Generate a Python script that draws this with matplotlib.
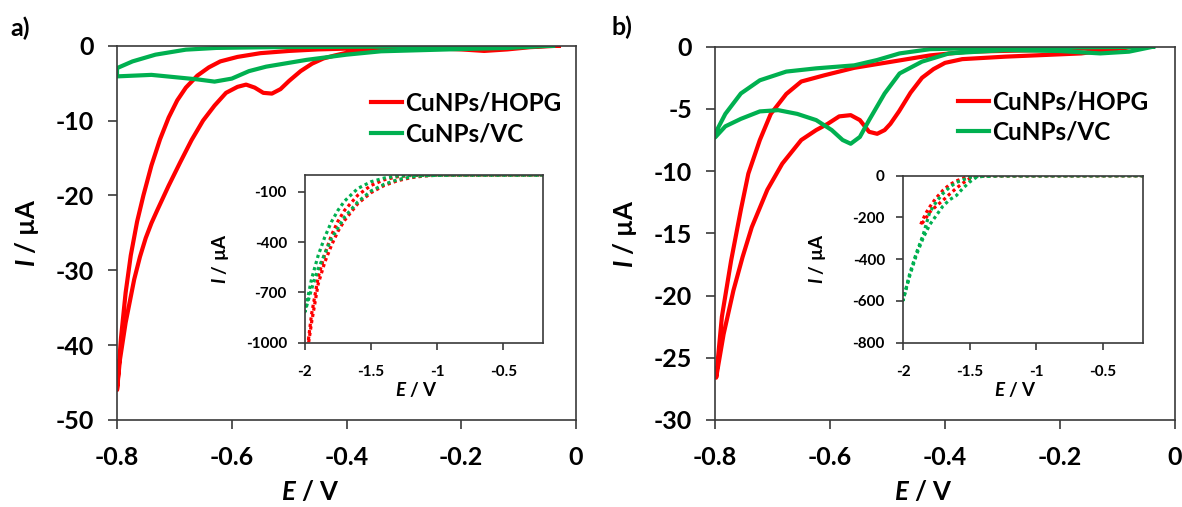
import matplotlib
matplotlib.use("Agg")
import matplotlib.pyplot as plt

plt.rcParams['font.family'] = ['Lato', 'DejaVu Sans']
plt.rcParams['font.weight'] = 'bold'
plt.rcParams['axes.unicode_minus'] = False
plt.rcParams['mathtext.fontset'] = 'custom'
plt.rcParams['mathtext.it'] = 'Lato:italic:bold'
plt.rcParams['mathtext.rm'] = 'Lato:bold'

RED = '#ff0000'
GREEN = '#00b050'
SPINE = '#3a3a3a'

# ---- panel a, main CV (E in V, I in uA) ----
a_red_fwd_E = [-0.03, -0.08, -0.12, -0.16, -0.20, -0.26, -0.32, -0.38, -0.42, -0.44, -0.46, -0.48,
               -0.50, -0.515, -0.53, -0.545, -0.56, -0.575, -0.59, -0.61, -0.63, -0.65, -0.67,
               -0.69, -0.71, -0.73, -0.74, -0.75, -0.76, -0.77, -0.785, -0.795, -0.80]
a_red_fwd_I = [0, -0.2, -0.5, -0.7, -0.5, -0.3, -0.3, -0.6, -1.3, -1.7, -2.4, -3.4,
               -4.7, -5.8, -6.4, -6.3, -5.6, -5.2, -5.5, -6.3, -8.0, -10.0, -12.6,
               -15.6, -18.7, -22.0, -23.7, -25.7, -28.2, -31.2, -37.0, -42.0, -46.0]
a_red_rev_E = [-0.80, -0.793, -0.785, -0.776, -0.765, -0.754, -0.74, -0.725, -0.71, -0.695, -0.68,
               -0.66, -0.64, -0.62, -0.59, -0.55, -0.50, -0.45, -0.38, -0.30, -0.20, -0.10, -0.03]
a_red_rev_I = [-46.0, -39.0, -33.0, -28.0, -23.5, -20.0, -16.0, -12.5, -9.6, -7.3, -5.6,
               -4.0, -2.9, -2.1, -1.5, -1.0, -0.7, -0.5, -0.35, -0.25, -0.2, -0.1, 0]
a_grn_fwd_E = [-0.04, -0.12, -0.20, -0.27, -0.34, -0.40, -0.47, -0.54, -0.57, -0.60, -0.63,
               -0.66, -0.70, -0.74, -0.80]
a_grn_fwd_I = [0, -0.3, -0.45, -0.6, -0.75, -1.2, -1.9, -2.8, -3.4, -4.4, -4.8,
               -4.5, -4.2, -3.9, -4.1]
a_grn_rev_E = [-0.80, -0.773, -0.733, -0.68, -0.627, -0.53, -0.40, -0.20, -0.04]
a_grn_rev_I = [-3.0, -2.1, -1.2, -0.53, -0.3, -0.2, -0.15, -0.1, 0]

# ---- panel a, inset (wide potential window) ----
ai_red_fwd_E = [-0.2, -1.0, -1.1, -1.2, -1.3, -1.4, -1.5, -1.6, -1.7, -1.75, -1.8, -1.85, -1.9, -1.95, -2.0]
ai_red_fwd_I = [0, -1, -6, -16, -34, -62, -105, -170, -270, -335, -420, -520, -650, -880, -1150]
ai_red_rev_E = [-2.0, -1.95, -1.9, -1.85, -1.8, -1.75, -1.7, -1.6, -1.5, -1.4, -1.3, -1.2, -1.0, -0.2]
ai_red_rev_I = [-1150, -830, -610, -470, -360, -275, -210, -120, -62, -28, -10, -3, 0, 0]
ai_grn_fwd_E = [-0.2, -0.9, -1.1, -1.2, -1.3, -1.4, -1.5, -1.6, -1.7, -1.8, -1.9, -1.95, -2.0]
ai_grn_fwd_I = [0, 0, -4, -12, -28, -55, -95, -160, -250, -380, -560, -680, -816]
ai_grn_rev_E = [-2.0, -1.95, -1.9, -1.85, -1.8, -1.75, -1.7, -1.6, -1.5, -1.4, -1.3, -1.2, -0.9, -0.2]
ai_grn_rev_I = [-816, -620, -480, -370, -280, -210, -155, -80, -40, -18, -6, -2, 0, 0]

# ---- panel b, main CV ----
b_red_fwd_E = [-0.07, -0.163, -0.295, -0.37, -0.40, -0.42, -0.44, -0.46, -0.48, -0.495, -0.505,
               -0.518, -0.532, -0.548, -0.564, -0.584, -0.604, -0.624, -0.65, -0.683, -0.709,
               -0.736, -0.752, -0.768, -0.785, -0.798]
b_red_fwd_I = [0, -0.54, -0.8, -1.0, -1.3, -1.8, -2.5, -3.7, -5.2, -6.2, -6.7,
               -7.0, -6.84, -5.9, -5.5, -5.6, -6.2, -6.7, -7.5, -9.4, -11.5,
               -14.5, -16.9, -19.6, -23.1, -26.6]
b_red_rev_E = [-0.798, -0.788, -0.772, -0.755, -0.742, -0.722, -0.703, -0.676, -0.65, -0.61,
               -0.558, -0.492, -0.426, -0.36, -0.229, -0.07]
b_red_rev_I = [-26.6, -21.7, -17.2, -13.1, -10.2, -7.5, -5.4, -3.8, -2.8, -2.3,
               -1.7, -1.2, -0.7, -0.4, -0.27, 0]
b_grn_fwd_E = [-0.038, -0.08, -0.13, -0.20, -0.295, -0.393, -0.44, -0.479, -0.505, -0.532,
               -0.548, -0.564, -0.578, -0.597, -0.624, -0.657, -0.69, -0.722, -0.755, -0.782, -0.80]
b_grn_fwd_I = [0, -0.4, -0.54, -0.35, -0.27, -0.54, -1.2, -2.15, -3.76, -5.9,
               -7.25, -7.8, -7.5, -6.7, -5.9, -5.4, -5.1, -5.2, -5.8, -6.4, -7.3]
b_grn_rev_E = [-0.80, -0.782, -0.755, -0.722, -0.676, -0.624, -0.558, -0.518, -0.479, -0.426,
               -0.36, -0.038]
b_grn_rev_I = [-7.0, -5.4, -3.76, -2.7, -2.0, -1.74, -1.5, -1.07, -0.54, -0.2, -0.13, 0]

# ---- panel b, inset ----
bi_red_fwd_E = [-0.2, -1.35, -1.4, -1.45, -1.5, -1.55, -1.6, -1.65, -1.7, -1.75, -1.8, -1.84, -1.87]
bi_red_fwd_I = [0, 0, -2, -6, -14, -35, -60, -88, -118, -145, -175, -215, -237]
bi_red_rev_E = [-1.87, -1.83, -1.8, -1.755, -1.7, -1.655, -1.6, -1.53, -1.45, -0.2]
bi_red_rev_I = [-237, -181, -150, -109, -70, -45, -25, -8, -1, 0]
bi_grn_fwd_E = [-0.2, -1.3, -1.4, -1.45, -1.5, -1.55, -1.6, -1.65, -1.7, -1.75, -1.8, -1.85, -1.9, -1.95, -2.0]
bi_grn_fwd_I = [0, 0, -3, -8, -30, -60, -95, -115, -145, -190, -235, -300, -380, -480, -597]
bi_grn_rev_E = [-2.0, -1.95, -1.9, -1.85, -1.8, -1.75, -1.7, -1.65, -1.6, -1.5, -1.4, -0.2]
bi_grn_rev_I = [-597, -470, -370, -285, -175, -125, -85, -55, -32, -8, -1, 0]

main_xticks = [-0.8, -0.6, -0.4, -0.2, 0]
main_xlabels = ['-0.8', '-0.6', '-0.4', '-0.2', '0']
a_yticks = [0, -10, -20, -30, -40, -50]
b_yticks = [0, -5, -10, -15, -20, -25, -30]
inset_xticks = [-2, -1.5, -1, -0.5]
inset_xlabels = ['-2', '-1.5', '-1', '-0.5']
ai_yticks = [-100, -400, -700, -1000]
bi_yticks = [0, -200, -400, -600, -800]

labels = ['CuNPs/HOPG', 'CuNPs/VC']

fig = plt.figure(figsize=(11.82, 5.07), dpi=100)


def style(ax, fs, tlen, xpad, ypad):
    for s in ax.spines.values():
        s.set_color(SPINE)
        s.set_linewidth(1.2)
    ax.tick_params(direction='out', length=tlen, width=1.2, color=SPINE, labelsize=fs)
    ax.tick_params(axis='x', pad=xpad)
    ax.tick_params(axis='y', pad=ypad)


def set_labels(ax, fs, xl, xy, yx):
    ax.set_xlabel(r'$\mathit{E}$ / V', fontsize=fs, fontweight='bold', va='center')
    ax.set_ylabel(r'$\mathit{I}$ / µA', fontsize=fs, fontweight='bold', va='center')
    ax.xaxis.set_label_coords(xl, xy)
    ax.yaxis.set_label_coords(yx, 0.5)


def main_panel(rect, fwd_r, rev_r, fwd_g, rev_g, yticks, ylim, xl, leg_xy):
    ax = fig.add_axes(rect)
    lw = 3.0
    ax.plot(fwd_r[0] + rev_r[0], fwd_r[1] + rev_r[1], color=RED, lw=lw, label=labels[0])
    ax.plot(fwd_g[0] + rev_g[0], fwd_g[1] + rev_g[1], color=GREEN, lw=lw, label=labels[1])
    ax.set_xlim(-0.8, 0)
    ax.set_ylim(ylim, 0)
    ax.set_xticks(main_xticks)
    ax.set_xticklabels(main_xlabels)
    ax.set_yticks(yticks)
    ax.set_yticklabels([str(t) for t in yticks])
    style(ax, 18, 6.5, 12, 10)
    set_labels(ax, 18.5, xl, -0.192, -0.196)
    ax.legend(loc='upper left', bbox_to_anchor=leg_xy, frameon=False, fontsize=17.5,
              handlelength=1.3, handletextpad=0.1, labelspacing=0.3,
              borderpad=0, borderaxespad=0)
    return ax


def inset(rect, fwd_r, rev_r, fwd_g, rev_g, yticks, ylim, xl):
    ax = fig.add_axes(rect)
    ds = (0, (1, 1))
    ax.plot(fwd_r[0] + rev_r[0], fwd_r[1] + rev_r[1], color=RED, lw=2.3, ls=ds)
    ax.plot(fwd_g[0] + rev_g[0], fwd_g[1] + rev_g[1], color=GREEN, lw=2.3, ls=ds)
    ax.set_xlim(-2, -0.2)
    ax.set_ylim(ylim, 0)
    ax.set_xticks(inset_xticks)
    ax.set_xticklabels(inset_xlabels)
    ax.set_yticks(yticks)
    ax.set_yticklabels([str(t) for t in yticks])
    style(ax, 11, 5, 11, 8)
    set_labels(ax, 13.5, xl, -0.28, -0.355)
    return ax


main_panel([0.0990, 0.1716, 0.3883, 0.7383],
           (a_red_fwd_E, a_red_fwd_I), (a_red_rev_E, a_red_rev_I),
           (a_grn_fwd_E, a_grn_fwd_I), (a_grn_rev_E, a_grn_rev_I),
           a_yticks, -50, 0.42, (0.553, 0.877))
inset([0.2580, 0.3241, 0.2014, 0.3307],
      (ai_red_fwd_E, ai_red_fwd_I), (ai_red_rev_E, ai_red_rev_I),
      (ai_grn_fwd_E, ai_grn_fwd_I), (ai_grn_rev_E, ai_grn_rev_I),
      ai_yticks, -1000, 0.468)

main_panel([0.6049, 0.1716, 0.3892, 0.7363],
           (b_red_fwd_E, b_red_fwd_I), (b_red_rev_E, b_red_rev_I),
           (b_grn_fwd_E, b_grn_fwd_I), (b_grn_rev_E, b_grn_rev_I),
           b_yticks, -30, 0.452, (0.528, 0.883))
inset([0.7640, 0.3241, 0.2030, 0.3294],
      (bi_red_fwd_E, bi_red_fwd_I), (bi_red_rev_E, bi_red_rev_I),
      (bi_grn_fwd_E, bi_grn_fwd_I), (bi_grn_rev_E, bi_grn_rev_I),
      bi_yticks, -800, 0.467)

fig.text(0.017, 0.945, 'a)', fontsize=18, fontweight='bold', ha='center', va='center')
fig.text(0.526, 0.947, 'b)', fontsize=18, fontweight='bold', ha='center', va='center')

fig.savefig('out.png', dpi=100)
